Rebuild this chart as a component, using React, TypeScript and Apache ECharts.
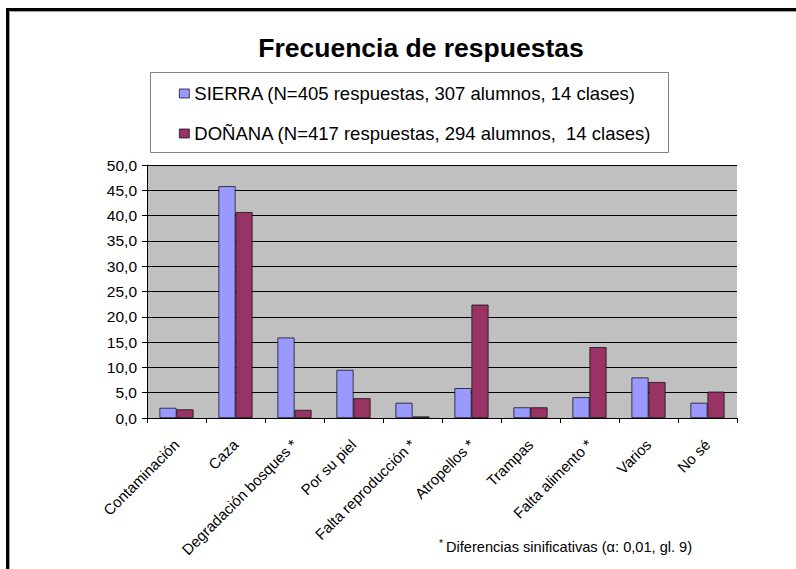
import React, { useEffect, useRef } from "react";
import * as echarts from "echarts";

const categories = [
  "Contaminación",
  "Caza",
  "Degradación bosques *",
  "Por su piel",
  "Falta reproducción *",
  "Atropellos *",
  "Trampas",
  "Falta alimento *",
  "Varios",
  "No sé",
];
const sierraName = "SIERRA (N=405 respuestas, 307 alumnos, 14 clases)";
const donanaName = "DOÑANA (N=417 respuestas, 294 alumnos,  14 clases)";
const sierraValues = [2.0, 45.8, 15.9, 9.5, 3.0, 5.9, 2.1, 4.1, 8.0, 3.0];
const donanaValues = [1.7, 40.7, 1.6, 3.9, 0.3, 22.4, 2.1, 14.0, 7.1, 5.2];
const titleText = "Frecuencia de respuestas";
const footnoteText = "Diferencias sinificativas (α: 0,01, gl. 9)";

const FONT = "Liberation Sans, Arial, sans-serif";

export default function App() {
  const ref = useRef<HTMLDivElement>(null);
  useEffect(() => {
    document.body.style.margin = "0";
    const chart = echarts.init(ref.current!, undefined, { renderer: "svg" });
    chart.setOption({
      animation: false,
      backgroundColor: "#ffffff",
      title: {
        text: titleText,
        left: 416,
        textAlign: "center",
        top: 29,
        textStyle: { fontFamily: FONT, fontSize: 26.5, fontWeight: "bold", color: "#000" },
      },
      legend: {
        orient: "vertical",
        left: 174,
        top: 79,
        itemGap: 21,
        itemWidth: 10,
        itemHeight: 9,
        icon: "rect",
        data: [sierraName, donanaName],
        itemStyle: { borderColor: "#000", borderWidth: 0.7 },
        textStyle: { fontFamily: FONT, fontSize: 18.5, color: "#000" },
      },
      graphic: [
        { type: "rect", shape: { x: 150.5, y: 72.5, width: 518, height: 80 }, style: { fill: "#fff", stroke: "#808080", lineWidth: 1 }, z: -1 },
        { type: "rect", shape: { x: 6, y: 8, width: 790, height: 3 }, style: { fill: "#000" } },
        { type: "rect", shape: { x: 6, y: 8, width: 3, height: 561 }, style: { fill: "#000" } },
        { type: "rect", shape: { x: 9, y: 11, width: 787, height: 1 }, style: { fill: "#a0a0a0" } },
        { type: "rect", shape: { x: 9, y: 11, width: 1, height: 558 }, style: { fill: "#a0a0a0" } },
        { type: "text", x: 439, y: 538, style: { text: "*", fontFamily: FONT, fontSize: 10, fill: "#000" } },
        { type: "text", x: 446, y: 539, style: { text: footnoteText, fontFamily: FONT, fontSize: 14.6, fill: "#000" } },
      ],
      grid: {
        left: 147,
        top: 165,
        width: 590,
        height: 253,
        show: true,
        backgroundColor: "#c0c0c0",
        borderWidth: 0,
      },
      xAxis: {
        type: "category",
        data: categories,
        axisLine: { lineStyle: { color: "#000", width: 1 } },
        axisTick: { show: true, interval: 0, length: 5, lineStyle: { color: "#000" } },
        axisLabel: {
          interval: 0,
          rotate: 45,
          fontFamily: FONT,
          fontSize: 15,
          color: "#000",
          margin: 24,
          verticalAlign: "middle",
        },
      },
      yAxis: {
        type: "value",
        min: 0,
        max: 50,
        interval: 5,
        axisLine: { show: true, lineStyle: { color: "#000", width: 1 } },
        axisTick: { show: true, length: 5, lineStyle: { color: "#000" } },
        axisLabel: {
          fontFamily: FONT,
          fontSize: 15.5,
          color: "#000",
          margin: 10,
          formatter: (v: number) => v.toFixed(1).replace(".", ","),
        },
        splitLine: { show: true, lineStyle: { color: "#000", width: 1 } },
      },
      series: [
        {
          name: sierraName,
          type: "bar",
          data: sierraValues,
          barWidth: 17,
          barGap: "0%",
          itemStyle: { color: "#9999ff", borderColor: "#000", borderWidth: 0.7 },
        },
        {
          name: donanaName,
          type: "bar",
          data: donanaValues,
          barWidth: 17,
          barGap: "0%",
          itemStyle: { color: "#993366", borderColor: "#000", borderWidth: 0.7 },
        },
      ],
    });
    return () => chart.dispose();
  }, []);
  return <div ref={ref} style={{ width: 796, height: 569 }} />;
}
